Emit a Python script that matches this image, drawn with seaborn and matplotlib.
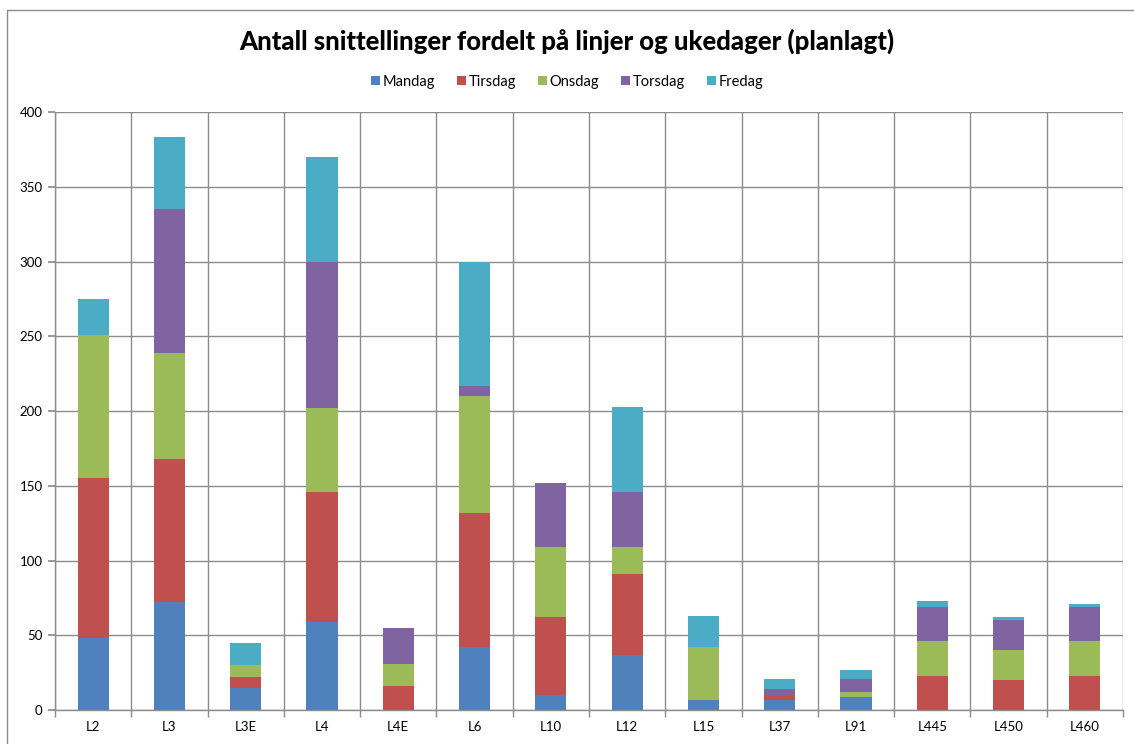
import numpy as np
import pandas as pd
import seaborn as sns
import matplotlib
matplotlib.use("Agg")
import matplotlib.pyplot as plt
from matplotlib.lines import Line2D
from matplotlib.patches import Patch
from matplotlib.ticker import FixedLocator, MultipleLocator

# data
lines = ["L2", "L3", "L3E", "L4", "L4E", "L6", "L10", "L12",
         "L15", "L37", "L91", "L445", "L450", "L460"]
days = ["Mandag", "Tirsdag", "Onsdag", "Torsdag", "Fredag"]
mandag = [48, 72, 15, 59, 0, 42, 10, 37, 7, 7, 9, 0, 0, 0]
tirsdag = [107, 96, 7, 87, 16, 90, 52, 54, 0, 3, 0, 23, 20, 23]
onsdag = [96, 71, 8, 56, 15, 78, 47, 18, 35, 0, 3, 23, 20, 23]
torsdag = [0, 96, 0, 98, 24, 7, 43, 37, 0, 4, 9, 23, 20, 23]
fredag = [24, 48, 15, 70, 0, 83, 0, 57, 21, 7, 6, 4, 2, 2]
day_colors = ["#4F81BD", "#C0504D", "#9BBB59", "#8064A2", "#4BACC6"]

title = "Antall snittellinger fordelt på linjer og ukedager (planlagt)"

sns.set_theme(style="white")
plt.rcParams["font.family"] = ["Lato", "DejaVu Sans"]
plt.rcParams["text.color"] = "black"

df = pd.DataFrame({"linje": lines, "Mandag": mandag, "Tirsdag": tirsdag,
                   "Onsdag": onsdag, "Torsdag": torsdag, "Fredag": fredag})

fig = plt.figure(figsize=(11.34, 7.44), dpi=100)
ax = fig.add_axes([55 / 1134, 1 - 710 / 744, (1123 - 55) / 1134, (710 - 112) / 744])

grid_col = "#8C8C8C"
bottom = np.zeros(len(lines))
for day, col in zip(days, day_colors):
    sns.barplot(data=df, x="linje", y=day, bottom=bottom, color=col,
                width=0.41, linewidth=0, saturation=1, ax=ax)
    bottom = bottom + df[day].values

ax.set_xlim(-0.5, len(lines) - 0.5)
ax.set_ylim(0, 400)
ax.yaxis.set_major_locator(MultipleLocator(50))
ax.xaxis.set_minor_locator(FixedLocator(np.arange(-0.5, len(lines), 1.0)))
ax.set_xlabel("")
ax.set_ylabel("")
ax.grid(axis="y", which="major", color=grid_col, linewidth=1)
ax.grid(axis="x", which="minor", color=grid_col, linewidth=1)
ax.set_axisbelow(True)
for s in ["top", "right"]:
    ax.spines[s].set_visible(False)
for s in ["left", "bottom"]:
    ax.spines[s].set_color(grid_col)
    ax.spines[s].set_linewidth(1)
ax.tick_params(axis="x", which="major", length=0, pad=8, labelsize=9.5, labelcolor="black")
ax.tick_params(axis="x", which="minor", length=5, color=grid_col, direction="out", bottom=True)
ax.tick_params(axis="y", length=5, color=grid_col, direction="out", left=True,
               labelsize=9.5, pad=4, labelcolor="black")

handles = [Patch(facecolor=c, edgecolor="none") for c in day_colors]
fig.legend(handles, days, loc="center", bbox_to_anchor=(0.5, 1 - 82 / 744),
           ncol=5, frameon=False, fontsize=10.5, handlelength=0.6, handleheight=0.6,
           handletextpad=0.2, columnspacing=1.5)
fig.text(0.5, 1 - 41 / 744, title, ha="center", va="center",
         fontsize=18.5, fontweight="black", color="black")

# chart area border (left and top edges visible)
fig.add_artist(Line2D([7 / 1134, 7 / 1134], [0, 1 - 10 / 744], transform=fig.transFigure,
                      color="#8C8C8C", linewidth=1))
fig.add_artist(Line2D([7 / 1134, 1], [1 - 10 / 744, 1 - 10 / 744], transform=fig.transFigure,
                      color="#8C8C8C", linewidth=1))

fig.savefig("out.png", dpi=100)
